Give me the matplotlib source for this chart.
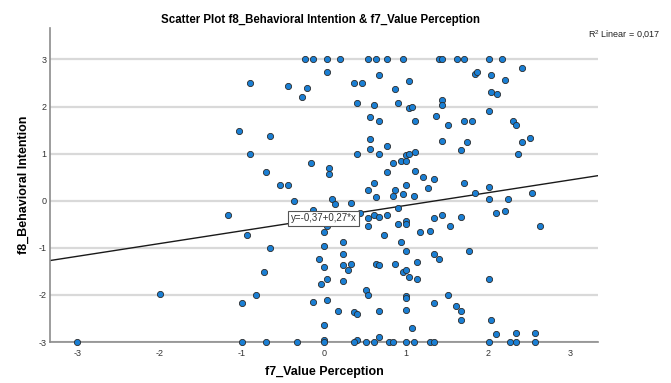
import matplotlib
matplotlib.use("Agg")
from matplotlib import pyplot as plt
import numpy as np

plt.rcParams['font.family'] = ['Liberation Sans', 'DejaVu Sans']

# f7_Value Perception (x) and f8_Behavioral Intention (y)
value_perception = [
    # row at y = 3
    -0.23, -0.13, 0.04, 0.20, 0.54, 0.64, 0.77, 0.97, 1.40, 1.44, 1.63, 1.71, 2.01, 2.17,
    # upper half
    0.04, 0.67, -0.90, -0.43, -0.20, -0.27, 0.37, 0.47, 0.40, 0.61, 0.57, 0.67,
    -1.03, -0.66, 0.57, 0.77, -0.90, 0.40, 0.57, 0.67, -0.16, 0.07, 0.07, -0.70,
    -0.53, -0.43, 0.61, 0.54, 0.64, -0.36, 0.10, 0.14, 0.33, 0.77,
    2.41, 1.84, 1.87, 2.04, 2.21, 1.04, 0.87, 2.04, 2.11, 0.91, 1.04, 1.08,
    1.44, 1.44, 2.01, 1.37, 1.11, 1.51, 1.71, 1.81, 2.31, 2.34, 2.51, 2.41,
    1.44, 1.74, 1.67, 2.37, 1.00, 1.04, 1.11, 0.84, 0.94, 1.00, 1.11, 1.21,
    1.34, 1.27, 1.71, 2.01, 1.84, 2.54, 0.87, 1.00, 0.84, 0.97, 1.10, 2.01, 2.24,
    # lower half
    -1.17, -0.13, 0.44, 0.54, 0.61, 0.67, 0.77, 0.54, 0.04, 0.00, -0.94, 0.74,
    0.23, -0.66, 0.00, 0.23, -0.06, 0.00, 0.23, 0.33, 0.30, 0.64, 0.67, -0.73,
    0.04, -0.03, 0.23, 0.51, 0.54, -0.83, -1.00, -0.13, 0.04, 0.17, 0.37, 0.40,
    0.67, 0.00, 0.00, 0.67, 0.40,
    0.91, 1.00, 1.00, 0.91, 1.34, 1.44, 1.67, 1.54, 1.17, 1.30, 0.94, 2.10,
    2.21, 2.64, 1.00, 1.77, 1.34, 1.41, 0.87, 1.14, 0.97, 1.00, 1.04, 1.14,
    2.01, 1.51, 1.00, 1.00, 1.34, 1.61, 1.67, 1.00, 1.67, 2.04, 1.07, 2.10,
    2.34, 2.57, -2.00,
    # row at y = -3
    -3.00, -1.00, -0.70, -0.33, 0.00, 0.37, 0.51, 0.61, 0.79, 0.84, 1.00, 1.10,
    1.30, 1.34, 2.01, 2.27, 2.34, 2.57,
]
behavioral_intention = [
    3, 3, 3, 3, 3, 3, 3, 3, 3, 3, 3, 3, 3, 3,
    2.74, 2.67, 2.51, 2.44, 2.40, 2.20, 2.51, 2.51, 2.07, 2.03, 1.77, 1.70,
    1.47, 1.37, 1.30, 1.17, 1.00, 1.00, 1.10, 1.00, 0.80, 0.70, 0.57, 0.60,
    0.33, 0.33, 0.37, 0.23, 0.07, 0.00, 0.04, -0.08, -0.05, 0.60,
    2.81, 2.70, 2.74, 2.67, 2.57, 2.54, 2.37, 2.31, 2.27, 2.07, 1.97, 2.00,
    2.14, 2.04, 1.90, 1.80, 1.70, 1.61, 1.70, 1.70, 1.70, 1.61, 1.34, 1.24,
    1.27, 1.24, 1.07, 1.00, 0.97, 1.00, 1.03, 0.80, 0.84, 0.84, 0.64, 0.50,
    0.47, 0.26, 0.37, 0.30, 0.17, 0.17, 0.23, 0.33, 0.10, 0.14, 0.10, 0.04, 0.04,
    -0.30, -0.20, -0.27, -0.37, -0.30, -0.34, -0.30, -0.54, -0.54, -0.67, -0.73, -0.73,
    -0.87, -1.00, -0.97, -1.14, -1.23, -1.40, -1.37, -1.34, -1.47, -1.34, -1.37, -1.51,
    -1.67, -1.77, -1.70, -1.90, -2.00, -2.00, -2.17, -2.14, -2.10, -2.34, -2.37, -2.40,
    -2.34, -2.64, -2.96, -2.90, -2.96,
    -0.16, -0.43, -0.50, -0.50, -0.37, -0.30, -0.34, -0.54, -0.67, -0.64, -0.87, -0.27,
    -0.21, -0.54, -1.07, -1.07, -1.14, -1.23, -1.34, -1.30, -1.51, -1.47, -1.63, -1.67,
    -1.67, -2.00, -2.03, -2.07, -2.17, -2.24, -2.34, -2.31, -2.54, -2.54, -2.70, -2.84,
    -2.80, -2.80, -1.97,
    -3, -3, -3, -3, -3, -3, -3, -3, -3, -3, -3, -3,
    -3, -3, -3, -3, -3, -3,
]

# linear fit shown in the chart
intercept = -0.37
slope = 0.27
r2_linear = "0,017"
ticks = [-3, -2, -1, 0, 1, 2, 3]

fig = plt.figure(figsize=(6.71, 3.83), dpi=100)
ax = fig.add_axes([0.075, 0.107, 0.816, 0.819])

xlim = (-3.33, 3.34)
ax.set_xlim(*xlim)
ax.set_ylim(-3, 3.66)

# horizontal grid lines
for t in ticks:
    ax.axhline(t, color='#d9d9d9', lw=1.6, zorder=1)

# fit line
fitX = np.array(xlim)
fitY = intercept + slope * fitX
ax.plot(fitX, fitY, color='#1a1a1a', lw=1.0, zorder=2)

ax.scatter(value_perception, behavioral_intention, s=20, color='#1a7fd4',
           edgecolors='#2b2b2b', linewidths=0.6, zorder=3, clip_on=False)

ax.text(0, intercept, 'y=-0,37+0,27*x', ha='center', va='center', fontsize=7,
        color='#333333', zorder=4,
        bbox=dict(boxstyle='square,pad=0.25', fc='white', ec='#555555', lw=0.8))

for side in ['top', 'right']:
    ax.spines[side].set_visible(False)
for side in ['left', 'bottom']:
    ax.spines[side].set_color('#8c8c8c')
    ax.spines[side].set_linewidth(1.2)
    ax.spines[side].set_zorder(2.5)

ax.set_xticks(ticks)
ax.set_yticks(ticks)
ax.set_xticklabels([str(t) for t in ticks])
ax.set_yticklabels([str(t) for t in ticks])
ax.tick_params(length=0, labelsize=6.5, colors='#333333')
ax.tick_params(axis='x', pad=5)
ax.tick_params(axis='y', pad=3)

ax.set_xlabel('f7_Value Perception', fontsize=9, fontweight='bold', labelpad=6)
ax.set_ylabel('f8_Behavioral Intention', fontsize=9, fontweight='bold', labelpad=6)

fig.text(0.477, 0.947, 'Scatter Plot f8_Behavioral Intention & f7_Value Perception',
         ha='center', va='center', fontsize=8.3, fontweight='bold')
fig.text(0.877, 0.908, '$\\mathregular{R^2}$ Linear = ' + r2_linear,
         ha='left', va='center', fontsize=6.5, color='#222222')

fig.savefig('out.png', dpi=100)
